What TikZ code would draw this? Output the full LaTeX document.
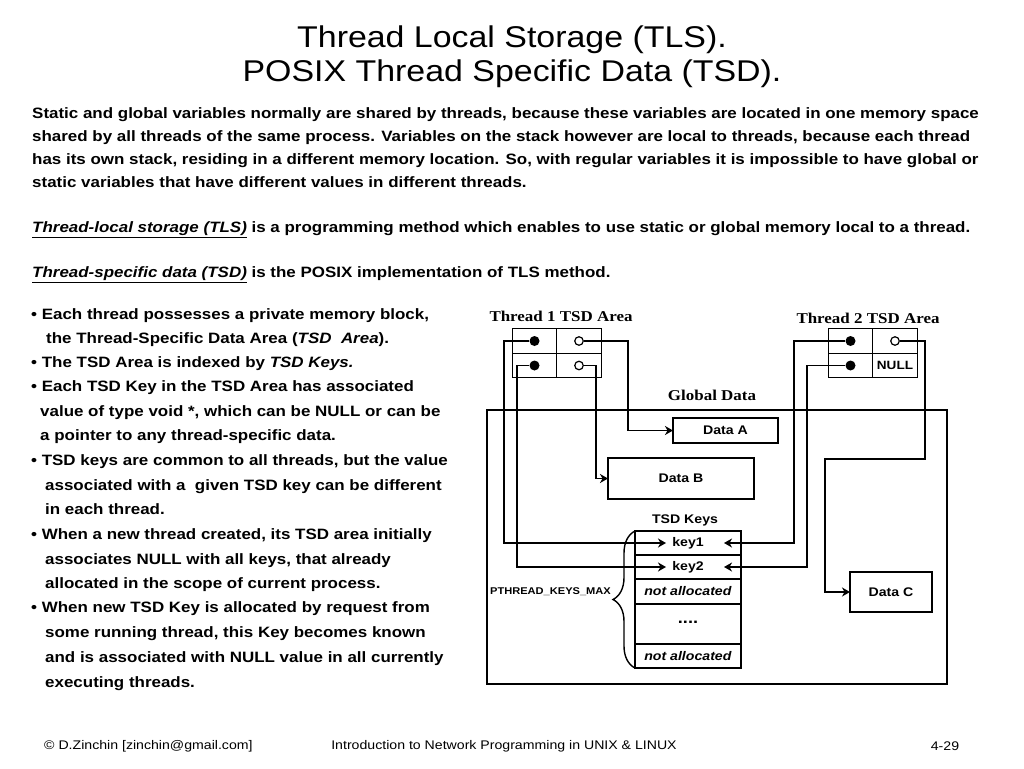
\documentclass[tikz,border=0pt]{standalone}
\usepackage{fontspec}
\setmainfont[FakeStretch=1.13]{Liberation Sans}
\newfontfamily\headserif[FakeStretch=1.13]{Liberation Serif}
\usepackage{tikz}
\usetikzlibrary{arrows.meta, positioning, calc, decorations.pathreplacing}

\tikzset{
  txt/.style={anchor=west, inner sep=0pt, text height=0.75em, text depth=0.25em,
    font=\fontsize{15}{18}\selectfont\bfseries},
  cell/.style={draw, line width=1.4pt, minimum width=44.5pt, minimum height=24.5pt,
    inner sep=0pt, outer sep=0pt, font=\fontsize{12}{14}\selectfont\bfseries},
  keycell/.style={draw, line width=1.4pt, minimum width=106pt, inner sep=0pt,
    outer sep=0pt, font=\fontsize{12.5}{14}\selectfont\bfseries},
  databox/.style={draw, line width=1.4pt, inner sep=0pt, outer sep=0pt,
    font=\fontsize{12.5}{14}\selectfont\bfseries},
  ptr/.style={circle, fill, minimum size=10pt, inner sep=0pt},
  nullptr/.style={circle, draw, fill=white, line width=1.2pt, minimum size=8.5pt, inner sep=0pt},
  areatitle/.style={font=\headserif\fontsize{15}{18}\selectfont\bfseries},
  wire/.style={line width=1.4pt},
  link/.style={wire, -{Stealth[length=8pt, width=9pt, inset=2.5pt]}},
}

\begin{document}
\begin{tikzpicture}[x=1pt, y=-1pt]
  \useasboundingbox (0,0) rectangle (1024,768);

  % title
  \node[font=\fontsize{30}{34}\selectfont] (title1) at (512,40) {Thread Local Storage (TLS).};
  \node[font=\fontsize{30}{34}\selectfont] (title2) at (512,74) {POSIX Thread Specific Data (TSD).};

  % introduction
  \node[txt] (p1) at (32,116) {Static and global variables normally are shared by threads, because these variables are located in one memory space};
  \node[txt] (p2) at (32,139) {shared by all threads of the same process. Variables on the stack however are local to threads, because each thread};
  \node[txt] (p3) at (32,162) {has its own stack, residing in a different memory location. So, with regular variables it is impossible to have global or};
  \node[txt] (p4) at (32,185) {static variables that have different values in different threads.};
  \node[txt] (p5) at (32,230) {\underline{\textit{Thread-local storage (TLS)}} is a programming method which enables to use static or global memory local to a thread.};
  \node[txt] (p6) at (32,275) {\underline{\textit{Thread-specific data (TSD)}} is the POSIX implementation of TLS method.};

  % bullets
  \node[txt] (b1)  at (31,317) {• Each thread possesses a private memory block,};
  \node[txt] (b2)  at (46,341) {the Thread-Specific Data Area (\textit{TSD\ \ Area}).};
  \node[txt] (b3)  at (31,365) {• The TSD Area is indexed by \textit{TSD Keys.}};
  \node[txt] (b4)  at (31,389) {• Each TSD Key in the TSD Area has associated};
  \node[txt] (b5)  at (40,414) {value of type void *, which can be NULL or can be};
  \node[txt] (b6)  at (40,438) {a pointer to any thread-specific data.};
  \node[txt] (b7)  at (31,463) {• TSD keys are common to all threads, but the value};
  \node[txt] (b8)  at (45,488) {associated with a\ \ given TSD key can be different};
  \node[txt] (b9)  at (45,512) {in each thread.};
  \node[txt] (b10) at (31,537) {• When a new thread created, its TSD area initially};
  \node[txt] (b11) at (45,562) {associates NULL with all keys, that already};
  \node[txt] (b12) at (45,586) {allocated in the scope of current process.};
  \node[txt] (b13) at (31,610) {• When new TSD Key is allocated by request from};
  \node[txt] (b14) at (45,635) {some running thread, this Key becomes known};
  \node[txt] (b15) at (45,660) {and is associated with NULL value in all currently};
  \node[txt] (b16) at (45,685) {executing threads.};

  % global data
  \node[draw, line width=1.4pt, minimum width=460pt, minimum height=274pt, inner sep=0pt] (global) at (717,547) {};
  \node[areatitle] (globaltitle) at (712,395) {Global Data};
  \node[databox, minimum width=105pt, minimum height=25pt] (dataA) at (725.5,430.5) {Data A};
  \node[databox, minimum width=146pt, minimum height=41pt] (dataB) at (681,478.5) {Data B};
  \node[databox, minimum width=82pt, minimum height=40pt] (dataC) at (891,592) {Data C};

  % TSD keys
  \node[keycell, minimum height=24pt] (keyA) at (688,543) {key1};
  \node[keycell, minimum height=24pt] (keyB) at (688,567) {key2};
  \node[keycell, minimum height=25pt] (keyC) at (688,591.5) {\textit{not allocated}};
  \node[keycell, minimum height=40pt, font=\fontsize{16}{18}\selectfont\bfseries] (keyD) at (688,624) {\raisebox{4pt}{....}};
  \node[keycell, minimum height=24pt] (keyE) at (688,656) {\textit{not allocated}};
  \node[font=\fontsize{12.5}{14}\selectfont\bfseries] (keystitle) at (685,520) {TSD Keys};
  \draw[wire, decorate, decoration={brace, amplitude=22pt}] (keyE.south west) -- (keyA.north west);
  \node[anchor=east, inner sep=0pt, font=\fontsize{9.8}{12}\selectfont\bfseries] (keysmax) at (611,592) {PTHREAD\_KEYS\_MAX};
  \coordinate (k1l) at ($(keyA.center)+(-22,0)$);
  \coordinate (k1r) at ($(keyA.center)+(36,0)$);
  \coordinate (k2l) at ($(keyB.center)+(-22,0)$);
  \coordinate (k2r) at ($(keyB.center)+(36,0)$);

  % thread 1 TSD area
  \node[areatitle] (t1title) at (561,316) {Thread 1 TSD Area};
  \node[cell] (t1a) at (534.5,341) {};
  \node[cell] (t1b) at (579,341) {};
  \node[cell] (t1c) at (534.5,365.5) {};
  \node[cell] (t1d) at (579,365.5) {};
  \node[ptr] (t1p1) at (t1a) {};
  \node[nullptr] (t1v1) at (t1b) {};
  \node[ptr] (t1p2) at (t1c) {};
  \node[nullptr] (t1v2) at (t1d) {};

  % thread 2 TSD area
  \node[areatitle] (t2title) at (868,318) {Thread 2 TSD Area};
  \node[cell] (t2a) at (850.5,341) {};
  \node[cell] (t2b) at (895,341) {};
  \node[cell] (t2c) at (850.5,365.5) {};
  \node[cell] (t2d) at (895,365.5) {NULL};
  \node[ptr] (t2p1) at (t2a) {};
  \node[nullptr] (t2v1) at (t2b) {};
  \node[ptr] (t2p2) at (t2c) {};

  % connectors
  \draw[link] (t1p1) -- (504,341) |- (k1l);
  \draw[link] (t1p2) -- (517,365.5) |- (k2l);
  \draw[link] (t1v1) -- (628,341) |- (dataA.west);
  \draw[link] (t1v2) -- (596,365.5) |- (dataB.west);
  \draw[link] (t2p1) -- (794,341) |- (k1r);
  \draw[link] (t2p2) -- (807,365.5) |- (k2r);
  \draw[link] (t2v1) -- (925,341) -- (925,459) -- (825,459) |- (dataC.west);

  % footer
  \node[anchor=west, inner sep=0pt, font=\fontsize{12.5}{14}\selectfont] (foot1) at (44,746) {© D.Zinchin [zinchin@gmail.com]};
  \node[font=\fontsize{12.5}{14}\selectfont] (foot2) at (504,746) {Introduction to Network Programming in UNIX \& LINUX};
  \node[font=\fontsize{12.5}{14}\selectfont] (foot3) at (945,746) {4-29};
\end{tikzpicture}
\end{document}
